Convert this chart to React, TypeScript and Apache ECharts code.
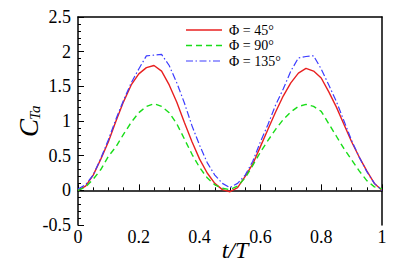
import React, { useEffect, useRef } from "react";
import * as echarts from "echarts";

const tValues = [
  0, 0.025, 0.05, 0.075, 0.1, 0.125, 0.15, 0.175, 0.2, 0.225, 0.25, 0.275, 0.3, 0.325, 0.35, 0.375, 0.4,
  0.425, 0.45, 0.475, 0.5, 0.525, 0.55, 0.575, 0.6, 0.625, 0.65, 0.675, 0.7, 0.725, 0.75, 0.775, 0.8,
  0.825, 0.85, 0.875, 0.9, 0.925, 0.95, 0.975, 1,
];
const phi45 = [
  0, 0.06, 0.22, 0.45, 0.7, 1.0, 1.28, 1.52, 1.68, 1.77, 1.8, 1.72, 1.52, 1.27, 0.98, 0.7, 0.45,
  0.25, 0.1, 0.01, -0.02, 0.04, 0.2, 0.38, 0.63, 0.88, 1.13, 1.36, 1.55, 1.69, 1.76, 1.72, 1.62,
  1.42, 1.2, 0.95, 0.7, 0.48, 0.28, 0.1, 0,
];
const phi90 = [
  0, 0.05, 0.16, 0.3, 0.49, 0.63, 0.81, 0.98, 1.12, 1.21, 1.25, 1.21, 1.12, 0.96, 0.74, 0.52, 0.33,
  0.18, 0.08, 0.03, 0.01, 0.06, 0.18, 0.36, 0.55, 0.72, 0.88, 1.02, 1.13, 1.21, 1.24, 1.21, 1.14,
  0.96, 0.78, 0.6, 0.44, 0.28, 0.14, 0.05, 0.02,
];
const phi135 = [
  0.02, 0.08, 0.22, 0.46, 0.73, 1.03, 1.3, 1.55, 1.75, 1.94, 1.95, 1.96, 1.8, 1.55, 1.26, 0.93, 0.65,
  0.4, 0.22, 0.1, 0.04, 0.1, 0.22, 0.42, 0.7, 0.95, 1.23, 1.46, 1.72, 1.91, 1.93, 1.94, 1.75,
  1.52, 1.28, 1.0, 0.72, 0.48, 0.27, 0.1, 0,
];
const seriesNames = ["Φ = 45°", "Φ = 90°", "Φ = 135°"];
const seriesColors = ["#e82020", "#18dd18", "#3c3cff"];
const seriesDash: (string | number[])[] = ["solid", [6, 4], [7, 2.5, 1.5, 2.5]];
const seriesWidth = [1.4, 1.4, 1.2];

const FONT = "Liberation Serif";

export default function App() {
  const ref = useRef<HTMLDivElement>(null);
  useEffect(() => {
    if (!ref.current) return;
    const chart = echarts.init(ref.current, undefined, { renderer: "svg" });
    const pair = (vals: number[]) => tValues.map((t, i) => [t, vals[i]]);
    const axisLabel = { color: "#000", fontFamily: FONT, fontSize: 18 };
    const legendRowsY = [30, 45.5, 61];
    const legendGraphics: any[] = [];
    seriesNames.forEach((name, i) => {
      legendGraphics.push({
        type: "line",
        shape: { x1: 186, y1: legendRowsY[i], x2: 222, y2: legendRowsY[i] },
        style: { stroke: seriesColors[i], lineWidth: seriesWidth[i], lineDash: seriesDash[i] === "solid" ? null : seriesDash[i] },
      });
      legendGraphics.push({
        type: "text",
        x: 229,
        y: legendRowsY[i],
        style: {
          text: name,
          font: "14px " + FONT,
          fill: "#000",
          textAlign: "left",
          textVerticalAlign: "middle",
        },
      });
    });
    chart.setOption({
      animation: false,
      textStyle: { fontFamily: FONT },
      grid: { left: 78, right: 25, top: 17, bottom: 47 },
      xAxis: [
        {
          type: "value",
          min: 0,
          max: 1,
          interval: 0.2,
          axisLine: { lineStyle: { color: "#000", width: 1.5 } },
          axisTick: { inside: true, length: 6, lineStyle: { color: "#000" } },
          minorTick: { show: true, splitNumber: 4, length: 3, lineStyle: { color: "#000" } },
          splitLine: { show: false },
          axisLabel: { ...axisLabel, margin: 3 },
        },
        {
          type: "value",
          position: "top",
          min: 0,
          max: 1,
          axisLine: { show: true, onZero: false, lineStyle: { color: "#000", width: 1.5 } },
          axisTick: { show: false },
          axisLabel: { show: false },
          splitLine: { show: false },
        },
      ],
      yAxis: [
        {
          type: "value",
          min: -0.5,
          max: 2.5,
          interval: 0.5,
          axisLine: { show: true, onZero: false, lineStyle: { color: "#000", width: 1.5 } },
          axisTick: { show: true, inside: true, length: 6, lineStyle: { color: "#000" } },
          minorTick: { show: true, splitNumber: 5, length: 3, lineStyle: { color: "#000" } },
          splitLine: { show: false },
          axisLabel: { ...axisLabel, margin: 7 },
        },
        {
          type: "value",
          position: "right",
          min: -0.5,
          max: 2.5,
          axisLine: { show: true, onZero: false, lineStyle: { color: "#000", width: 1.5 } },
          axisTick: { show: false },
          axisLabel: { show: false },
          splitLine: { show: false },
        },
      ],
      series: [phi45, phi90, phi135].map((vals, i) => ({
        name: seriesNames[i],
        type: "line",
        data: pair(vals),
        symbol: "none",
        color: seriesColors[i],
        lineStyle: { width: seriesWidth[i], type: seriesDash[i] },
      })),
      graphic: [
        ...legendGraphics,
        {
          type: "group",
          x: 29,
          y: 137,
          rotation: Math.PI / 2,
          children: [
            {
              type: "text",
              x: 0,
              y: 0,
              style: {
                text: "C",
                font: "italic 27px " + FONT,
                fill: "#000",
                textAlign: "left",
                textVerticalAlign: "middle",
              },
            },
            {
              type: "text",
              x: 17,
              y: 6,
              style: {
                text: "Ta",
                font: "italic 15px " + FONT,
                fill: "#000",
                textAlign: "left",
                textVerticalAlign: "middle",
              },
            },
          ],
        },
        {
          type: "text",
          x: 235,
          y: 250,
          style: {
            text: "t/T",
            font: "italic 24px " + FONT,
            fill: "#000",
            textAlign: "center",
            textVerticalAlign: "middle",
          },
        },
      ],
    });
    return () => chart.dispose();
  }, []);
  return <div ref={ref} style={{ width: 407, height: 272, position: "absolute", left: 0, top: 0 }} />;
}
